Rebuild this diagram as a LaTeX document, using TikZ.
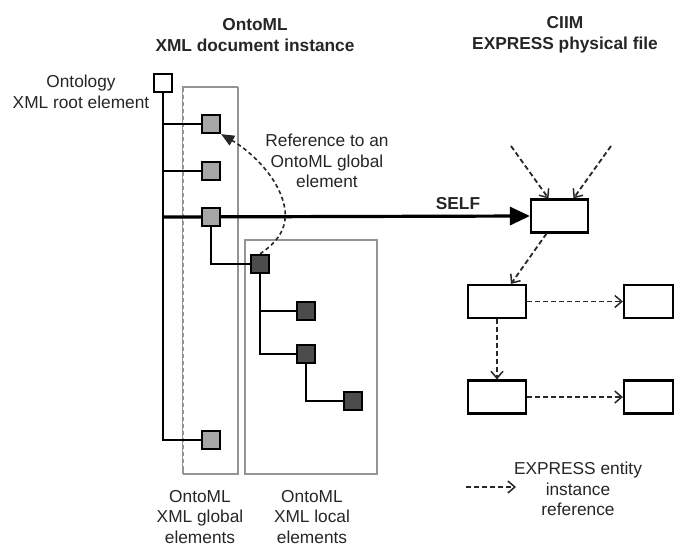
\documentclass[tikz,border=0pt]{standalone}
\usepackage{fontspec}
\setmainfont{Liberation Sans}
\usetikzlibrary{arrows.meta,backgrounds,calc}
\begin{document}
\begin{tikzpicture}[x=1pt,y=-1pt,
  font=\fontsize{17.3}{20.5}\selectfont,
  every node/.style={text=black!85},
  lbl/.style={align=center, inner sep=0pt},
  ttl/.style={align=center, inner sep=0pt, font=\fontsize{17.3}{20.5}\selectfont\bfseries},
  rootsq/.style={draw=black, line width=2.3pt, fill=white, minimum size=18pt, inner sep=0pt},
  glob/.style={draw=black, line width=2.3pt, fill=black!35, minimum size=18pt, inner sep=0pt},
  loc/.style={draw=black, line width=2.3pt, fill=black!70, minimum size=18pt, inner sep=0pt},
  ent/.style={draw=black, line width=2.2pt, fill=white, minimum height=33pt, inner sep=0pt},
  tree/.style={draw=black, line width=2.6pt},
  grp/.style={draw=black!42, line width=1.6pt},
  ref/.style={draw=black!85, line width=1.8pt, dash pattern=on 5pt off 3pt, -{Straight Barb[length=7pt,width=12pt,line width=1.5pt]}},
  selfarr/.style={draw=black, line width=3.2pt, -{Triangle[length=20pt,width=18pt]}},
  xref/.style={draw=black!85, line width=1.6pt, dash pattern=on 4pt off 3pt, -{Triangle[length=13pt,width=11pt]}}
]
\useasboundingbox (0,0) rectangle (675,546);

% titles
\node[ttl] (t1) at (255,35) {OntoML\\XML document instance};
\node[ttl] (t2) at (565,35) {CIIM\\EXPRESS physical file};

% XML tree nodes
\node[rootsq] (root) at (163,83) {};
\node[glob] (g1) at (211,124) {};
\node[glob] (g2) at (211,171) {};
\node[glob] (g3) at (211,217) {};
\node[glob] (g4) at (211,440) {};
\node[loc] (l1) at (260,264) {};
\node[loc] (l2) at (306,311) {};
\node[loc] (l3) at (306,354) {};
\node[loc] (l4) at (353,401) {};

% EXPRESS entity instances
\node[ent, minimum width=57pt] (e1) at (559.5,216) {};
\node[ent, minimum width=58pt] (e2) at (497,301.5) {};
\node[ent, minimum width=49pt] (e3) at (648.5,301.5) {};
\node[ent, minimum width=58pt] (e4) at (497,397) {};
\node[ent, minimum width=49pt] (e5) at (648.5,397) {};

\begin{scope}[on background layer]
  % grouping boxes
  \draw[grp] (238,87) -- (238,474) -- (183,474);
  \draw[grp] (183,474) -- (183,87) -- (238,87);
  \draw[draw=white, line width=1pt, dash pattern=on 3pt off 4pt] (183,92) -- (183,470);
  \draw[grp] (245,240) rectangle (377,474);
  % tree
  \draw[tree] (root.south) -- (root.south |- g4) -- (g4.west);
  \draw[tree] (root.south |- g1) -- (g1.west);
  \draw[tree] (root.south |- g2) -- (g2.west);
  \draw[tree] (g3.south) |- (l1.west);
  \draw[tree] (l1.south) |- (l2.west);
  \draw[tree] (l1.south) |- (l3.west);
  \draw[tree] (l3.south) |- (l4.west);
  % SELF
  \draw[selfarr] (root.south |- g3) -- (e1.west);
\end{scope}

% reference to a global element
\draw[xref] (l1.north) .. controls (278,242) and (287,228) .. (285,210)
  .. controls (281,180) and (252,152) .. (g1.south east);

% EXPRESS references
\coordinate (in1) at (511,146);
\coordinate (in2) at (611,146);
\draw[ref] (in1) -- ($(e1.north)+(-11,0)$);
\draw[ref] (in2) -- ($(e1.north)+(14,0)$);
\draw[ref] ($(e1.south)+(-13,0)$) -- ($(e2.north)+(14,0)$);
\draw[ref] (e2.east) -- (e3.west);
\draw[ref] (e2.south) -- (e4.north);
\draw[ref] (e4.east) -- (e5.west);

% labels
\node[lbl] (lroot) at (81,92) {Ontology\\XML root element};
\node[lbl] (lref) at (327,161) {Reference to an\\OntoML global\\element};
\node[ttl] (lself) at (458,204) {SELF};
\node[lbl] (lglob) at (200,517) {OntoML\\XML global\\elements};
\node[lbl] (lloc) at (312,517) {OntoML\\XML local\\elements};

% legend
\coordinate (lg1) at (466,487);
\coordinate (lg2) at (516,487);
\draw[ref] (lg1) -- (lg2);
\node[lbl] (lleg) at (578,489) {EXPRESS entity\\instance\\reference};
\end{tikzpicture}
\end{document}
